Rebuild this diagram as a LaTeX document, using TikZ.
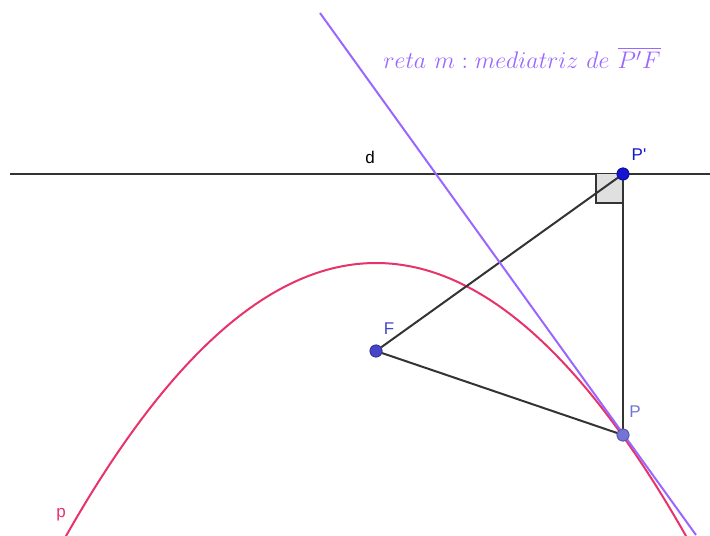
\documentclass[tikz,border=0pt]{standalone}
\usepackage{xcolor}
\usepackage{tikz}
\usetikzlibrary{calc,positioning}
\usepackage{amsmath}
\usepackage{fontspec}
\newfontfamily\labelfont{Liberation Sans}
\definecolor{ink}{HTML}{333333}
\definecolor{conic}{HTML}{E8336A}
\definecolor{bisector}{HTML}{9966FF}
\definecolor{ptdark}{HTML}{1414D2}
\definecolor{ptmid}{HTML}{4646C8}
\definecolor{ptlight}{HTML}{7474D8}

\begin{document}
\begin{tikzpicture}[x=0.5pt,y=-0.5pt,
  pt/.style={circle, inner sep=0pt, minimum size=6pt, draw=#1!75!black, fill=#1, line width=0.4pt},
  lab/.style={font=\labelfont\fontsize{8.5}{9}\selectfont, inner sep=0pt},
  seg/.style={ink, line width=1pt}]
  \useasboundingbox (0,0) rectangle (710,535);

  % parabola p: focus F, directrix d
  \begin{scope}
    \clip (0,0) rectangle (710,535);
    \draw[conic, line width=1pt] plot[domain=55:700, samples=120] (\x, {263+((\x-376)/18.762)^2});
  \end{scope}

  % directrix d
  \coordinate (dl) at (10,174);
  \coordinate (dr) at (710,174);
  \draw[ink, line width=0.8pt] (dl) -- (dr);
  \node[lab, text=black] (dlab) at (370,157) {d};

  % right angle at P'
  \fill[black!12] (596,174) rectangle (623,203);
  \draw[ink, line width=0.6pt] (596,174) -- (596,203) -- (623,203);

  % points
  \node[pt=ptdark] (Pprime) at (623,174) {};
  \node[pt=ptmid] (F) at (376,351) {};
  \node[pt=ptlight] (P) at (623,435) {};

  \draw[seg] (Pprime) -- (F);
  \draw[seg] (F) -- (P);
  \draw[seg] (Pprime) -- (P);

  % reta m
  \coordinate (mtop) at (320,13);
  \coordinate (mbot) at (696,535);
  \draw[bisector, line width=1pt] (mtop) -- (mbot);

  \node[pt=ptdark] at (Pprime) {};
  \node[pt=ptmid] at (F) {};
  \node[pt=ptlight] at (P) {};

  % labels
  \node[lab, text=ptdark] (Pplab) at (639,155) {P'};
  \node[lab, text=ptmid] (Flab) at (389,329) {F};
  \node[lab, text=ptlight] (Plab) at (635,412) {P};
  \node[lab, text=conic] (plab) at (61,515) {p};
  \node[text=bisector, inner sep=0pt, font=\fontsize{12.3}{14}\selectfont] (mlab) at (522,58)
    {$reta\ m : mediatriz\ de\ \overline{P'F}$};
\end{tikzpicture}
\end{document}
